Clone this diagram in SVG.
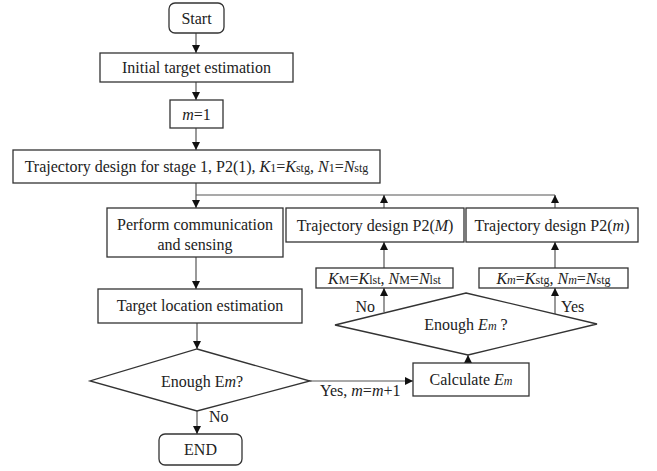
<svg xmlns="http://www.w3.org/2000/svg" width="657" height="471" viewBox="0 0 657 471">
<defs>
<marker id="ah" markerWidth="8" markerHeight="8" refX="8" refY="4" orient="auto" markerUnits="userSpaceOnUse">
<path d="M0,0 L8,4 L0,8 Z" fill="#111"/>
</marker>
<style>
.box{fill:#fff;stroke:#333;stroke-width:1.3}
text{font-family:'Liberation Serif','Times New Roman','DejaVu Serif',serif;font-size:16px;fill:#222}
.t{text-anchor:middle}
.s{font-size:12px}
.i{font-style:italic}
.c{fill:none;stroke:#555;stroke-width:1.2}
</style>
</defs>
<rect width="657" height="471" fill="#fff"/>
<g id="connectors">
<line class="c" x1="196" y1="33" x2="196" y2="53" marker-end="url(#ah)"/>
<line class="c" x1="196" y1="82" x2="196" y2="100" marker-end="url(#ah)"/>
<line class="c" x1="196" y1="128" x2="196" y2="150" marker-end="url(#ah)"/>
<line class="c" x1="196" y1="183" x2="196" y2="208" marker-end="url(#ah)"/>
<polyline class="c" points="196,195 555,195"/>
<line class="c" x1="384" y1="208" x2="384" y2="195" marker-end="url(#ah)"/>
<line class="c" x1="555" y1="208" x2="555" y2="195" marker-end="url(#ah)"/>
<line class="c" x1="384" y1="268" x2="384" y2="242" marker-end="url(#ah)"/>
<line class="c" x1="555" y1="268" x2="555" y2="242" marker-end="url(#ah)"/>
<line class="c" x1="384" y1="312" x2="384" y2="288" marker-end="url(#ah)"/>
<line class="c" x1="555" y1="314" x2="555" y2="288" marker-end="url(#ah)"/>
<line class="c" x1="468" y1="363" x2="468" y2="355" marker-end="url(#ah)"/>
<line class="c" x1="196" y1="257" x2="196" y2="289" marker-end="url(#ah)"/>
<line class="c" x1="197" y1="323" x2="197" y2="349" marker-end="url(#ah)"/>
<line class="c" x1="310" y1="381" x2="413" y2="381" marker-end="url(#ah)"/>
<line class="c" x1="197" y1="411" x2="197" y2="434" marker-end="url(#ah)"/>
<text x="375" y="312" text-anchor="end">No</text>
<text x="561" y="312">Yes</text>
<text x="320" y="396">Yes, <tspan class="i">m</tspan>=<tspan class="i">m</tspan>+1</text>
<text x="209" y="422">No</text>
</g>
<g id="start">
<rect class="box" x="169" y="3" width="55" height="30" rx="6"/>
<text class="t" x="196.5" y="23.5">Start</text>
</g>
<g id="init">
<rect class="box" x="100" y="53" width="193" height="29"/>
<text class="t" x="196.5" y="73">Initial target estimation</text>
</g>
<g id="m1">
<rect class="box" x="170" y="100" width="53" height="28"/>
<text class="t" x="196.5" y="119.5"><tspan class="i">m</tspan>=1</text>
</g>
<g id="traj1">
<rect class="box" x="13" y="150" width="367" height="33"/>
<text class="t" x="196.5" y="172">Trajectory design for stage 1, P2(1), <tspan class="i">K</tspan><tspan class="s">1</tspan>=<tspan class="i">K</tspan><tspan class="s">stg</tspan>, <tspan class="i">N</tspan><tspan class="s">1</tspan>=<tspan class="i">N</tspan><tspan class="s">stg</tspan></text>
</g>
<g id="perform">
<rect class="box" x="107" y="208" width="176" height="49"/>
<text class="t" x="195" y="230">Perform communication</text>
<text class="t" x="195" y="250">and sensing</text>
</g>
<g id="target">
<rect class="box" x="98" y="289" width="204" height="34"/>
<text class="t" x="200" y="311">Target location estimation</text>
</g>
<g id="trajM">
<rect class="box" x="286" y="208" width="178" height="34"/>
<text class="t" x="375" y="230.5">Trajectory design P2(<tspan class="i">M</tspan>)</text>
</g>
<g id="trajm">
<rect class="box" x="466" y="208" width="172" height="34"/>
<text class="t" x="552" y="230.5">Trajectory design P2(<tspan class="i">m</tspan>)</text>
</g>
<g id="kM">
<rect class="box" x="316" y="268" width="137" height="20"/>
<text class="t" x="384.5" y="283.5"><tspan class="i">K</tspan><tspan class="s">M</tspan>=<tspan class="i">K</tspan><tspan class="s">lst</tspan>, <tspan class="i">N</tspan><tspan class="s">M</tspan>=<tspan class="i">N</tspan><tspan class="s">lst</tspan></text>
</g>
<g id="km">
<rect class="box" x="479" y="268" width="149" height="20"/>
<text class="t" x="553.5" y="283.5"><tspan class="i">K</tspan><tspan class="s i">m</tspan>=<tspan class="i">K</tspan><tspan class="s">stg</tspan>, <tspan class="i">N</tspan><tspan class="s i">m</tspan>=<tspan class="i">N</tspan><tspan class="s">stg</tspan></text>
</g>
<g id="enough2">
<polygon class="box" points="466,293 597,324 468,355 335,325"/>
<text class="t" x="466" y="330">Enough <tspan class="i">E</tspan><tspan class="s i">m</tspan> ?</text>
</g>
<g id="calc">
<rect class="box" x="413" y="363" width="116" height="33"/>
<text class="t" x="471" y="385">Calculate <tspan class="i">E</tspan><tspan class="s i">m</tspan></text>
</g>
<g id="enough1">
<polygon class="box" points="197,349 310,381 197,411 90,381"/>
<text class="t" x="202" y="386.5">Enough E<tspan class="i">m</tspan>?</text>
</g>
<g id="end">
<rect class="box" x="159" y="434" width="83" height="31" rx="6"/>
<text class="t" x="200.5" y="455">END</text>
</g>
</svg>
